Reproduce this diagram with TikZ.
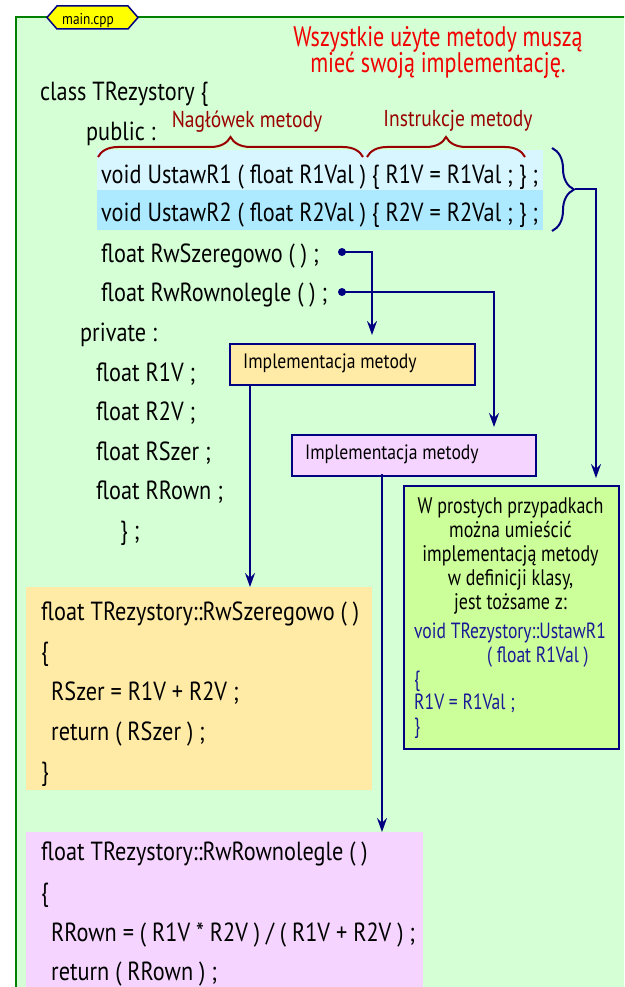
\documentclass[tikz,border=0pt]{standalone}
\usepackage{fontspec}
\setmainfont{PT Sans}[FakeStretch=0.85]
\newfontfamily\fB{PT Sans}[FakeStretch=0.78]
\newfontfamily\fC{PT Sans}[FakeStretch=0.80]
\usetikzlibrary{decorations.pathreplacing,arrows.meta}
\definecolor{bgc}{HTML}{D5FFD5}
\definecolor{framec}{HTML}{008000}
\definecolor{navyc}{HTML}{000080}
\definecolor{tabc}{HTML}{FFFF00}
\definecolor{titlec}{HTML}{F00000}
\definecolor{labc}{HTML}{990000}
\definecolor{rowa}{HTML}{D8F6FF}
\definecolor{rowb}{HTML}{AEEAFF}
\definecolor{orng}{HTML}{FFEAA6}
\definecolor{purp}{HTML}{F5D4FF}
\definecolor{limec}{HTML}{CCFF99}
\definecolor{bluetxt}{HTML}{1A1A96}
\tikzset{
  code/.style={anchor=base west, inner sep=0pt, font=\fontsize{26.2}{30}\selectfont},
  title/.style={anchor=base, inner sep=0pt, text=titlec, font=\fB\fontsize{28.3}{30}\selectfont},
  lab/.style={anchor=base, inner sep=0pt, text=labc, font=\fontsize{23}{25}\selectfont},
  bracel/.style={draw=labc, line width=2pt, decorate, decoration={brace, amplitude=20pt}},
  braceb/.style={draw=navyc, line width=2pt, decorate, decoration={brace, amplitude=22pt}},
  implbox/.style={draw=navyc, line width=2pt, anchor=north west, inner sep=0pt, minimum height=41pt},
  impltxt/.style={anchor=base west, inner sep=0pt, font=\fontsize{20.8}{24}\selectfont},
  block/.style={anchor=north west, inner sep=0pt},
  gtxt/.style={anchor=base, inner sep=0pt, font=\fC\fontsize{22.5}{24}\selectfont},
  btxt/.style={anchor=base west, inner sep=0pt, text=bluetxt, font=\fC\fontsize{22}{24}\selectfont},
  conn/.style={draw=navyc, line width=2pt, -{Stealth[length=14pt,width=10pt,inset=5pt]}},
  dotn/.style={circle, fill=navyc, minimum size=8pt, inner sep=0pt},
}
\begin{document}
\begin{tikzpicture}[x=1pt,y=-1pt]
\useasboundingbox (0,0) rectangle (624,987);
\clip (0,0) rectangle (624,987);
% frame
\fill[bgc] (16,17) rectangle (640,1000);
\draw[framec, line width=2pt] (16,1000) -- (16,17) -- (640,17);
% tab
\filldraw[fill=tabc, draw=navyc, line width=1.5pt] (47,17.5) -- (57,6) -- (128,6) -- (138,17.5) -- (128,29) -- (57,29) -- cycle;
\node[anchor=base, inner sep=0pt, font=\fontsize{15.7}{17}\selectfont] (tab) at (88,25) {main.cpp};
% title
\node[title] (t1l) at (438,47) {Wszystkie użyte metody muszą};
\node[title] (t2l) at (438,73) {mieć swoją implementację.};
% rows
\fill[rowa] (97,150) rectangle (543,190);
\fill[rowb] (97,190) rectangle (543,230);
% braces
\draw[bracel] (98,157) -- (363,157);
\draw[bracel] (367,157) -- (525,157);
\node[lab] (lh) at (247,128) {Nagłówek metody};
\node[lab] (li) at (458,127) {Instrukcje metody};
\draw[braceb] (552,148) -- (552,231);
\coordinate (bt) at (575,189.5);
% class code
\node[code] (c1) at (40,101) {class TRezystory \{};
\node[code] (c2) at (86,141) {public :};
\node[code] (c3) at (101,183) {void UstawR1 ( float R1Val ) \{ R1V = R1Val ; \} ;};
\node[code] (c4) at (101,222) {void UstawR2 ( float R2Val ) \{ R2V = R2Val ; \} ;};
\node[code] (c5) at (101,262) {float RwSzeregowo ( ) ;};
\node[code] (c6) at (101,301) {float RwRownolegle ( ) ;};
\node[code] (c7) at (80,341) {private :};
\node[code] (c8) at (96,381) {float R1V ;};
\node[code] (c9) at (96,420) {float R2V ;};
\node[code] (c10) at (96,460) {float RSzer ;};
\node[code] (c11) at (96,499) {float RRown ;};
\node[code] (c12) at (120,539) {\} ;};
% dots
\node[dotn] (d1) at (342,252) {};
\node[dotn] (d2) at (342,292) {};
% impl boxes
\node[implbox, fill=orng, minimum width=245pt] (impl1) at (229,343) {};
\node[impltxt] (impl1t) at (243,368) {Implementacja metody};
\node[implbox, fill=purp, minimum width=244pt] (impl2) at (291,434) {};
\node[impltxt] (impl2t) at (305,459) {Implementacja metody};
\coordinate (tip1) at (372,335);
\coordinate (tip2) at (494,427);
\coordinate (tip3) at (596,478);
\draw[conn] (d1.center) -| (tip1);
\draw[conn] (d2.center) -| (tip2);
\draw[conn] (bt) -| (tip3);
% green box
\node[draw=navyc, line width=2pt, fill=limec, anchor=north west, minimum width=215pt, minimum height=263pt, inner sep=0pt] (gbox) at (403,485) {};
\node[gtxt] (g1) at (510.5,513) {W prostych przypadkach};
\node[gtxt] (g2) at (510.5,537) {można umieścić};
\node[gtxt] (g3) at (510.5,561) {implementacją metody};
\node[gtxt] (g4) at (510.5,585) {w definicji klasy,};
\node[gtxt] (g5) at (510.5,609) {jest tożsame z:};
\node[btxt] (g6) at (414,638) {void TRezystory::UstawR1};
\node[btxt] (g7) at (487,662) {( float R1Val )};
\node[btxt] (g8) at (414,686) {\{};
\node[btxt] (g9) at (414,709) {R1V = R1Val ;};
\node[btxt] (g10) at (414,733) {\}};
% blocks
\node[block, fill=orng, minimum width=346pt, minimum height=203pt] (blockA) at (26,587) {};
\node[code] (a1) at (41,620) {float TRezystory::RwSzeregowo ( )};
\node[code] (a2) at (41,660) {\{};
\node[code] (a3) at (51,700) {RSzer = R1V + R2V ;};
\node[code] (a4) at (51,740) {return ( RSzer ) ;};
\node[code] (a5) at (41,780) {\}};
\node[block, fill=purp, minimum width=397pt, minimum height=180pt] (blockB) at (26,832) {};
\node[code] (b1) at (41,860) {float TRezystory::RwRownolegle ( )};
\node[code] (b2) at (41,901) {\{};
\node[code] (b3) at (51,941) {RRown = ( R1V * R2V ) / ( R1V + R2V ) ;};
\node[code] (b4) at (51,980) {return ( RRown ) ;};
% down connectors
\coordinate (s1) at (250,384);
\coordinate (s2) at (382,474);
\draw[conn] (s1) -- (s1 |- blockA.north);
\draw[conn] (s2) -- (s2 |- blockB.north);
\end{tikzpicture}
\end{document}
